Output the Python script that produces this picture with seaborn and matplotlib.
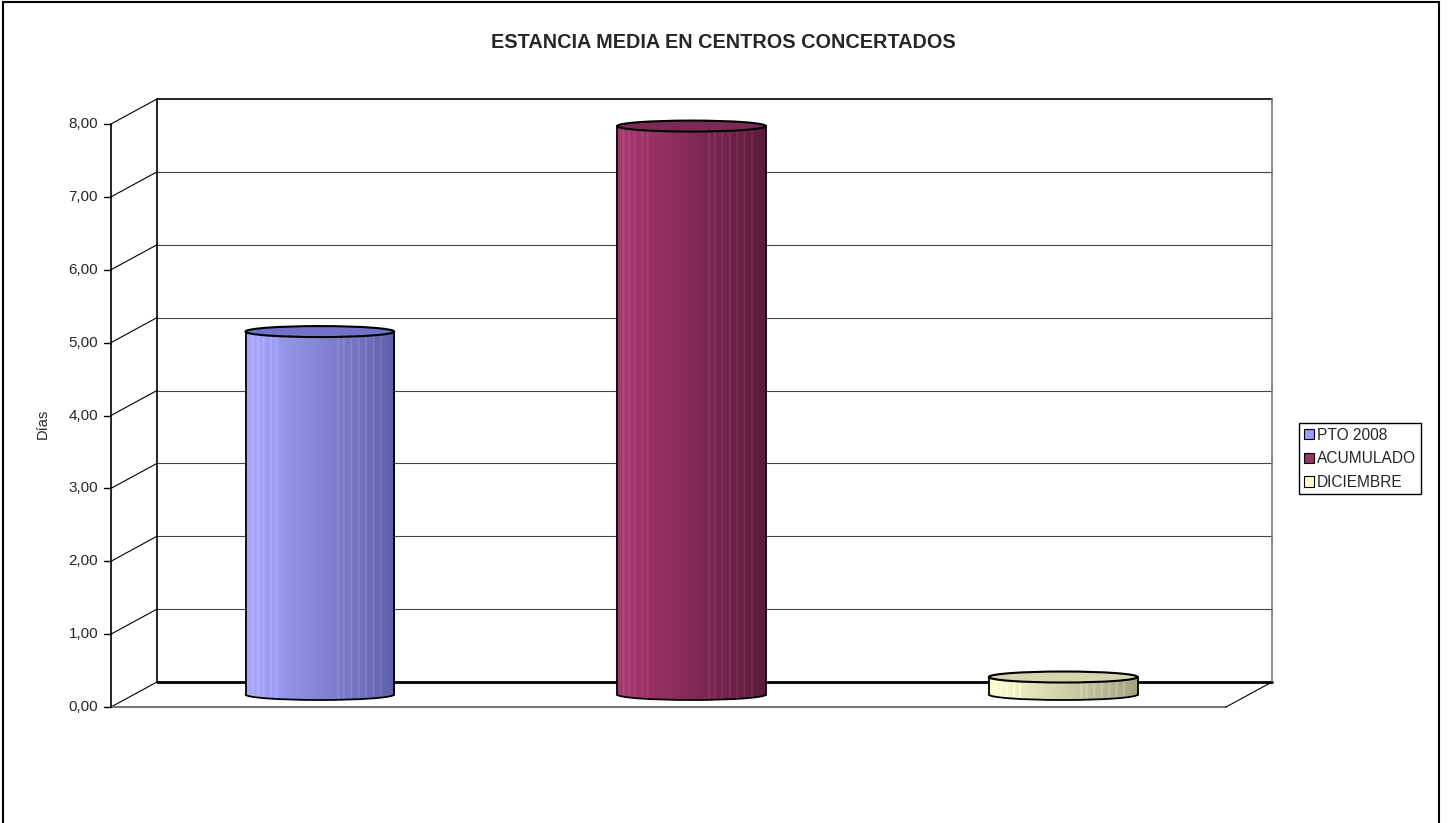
import numpy as np
import seaborn as sns
import matplotlib
matplotlib.use('Agg')
import matplotlib.pyplot as plt
import matplotlib.transforms as mtransforms
from matplotlib.lines import Line2D
from matplotlib.patches import Ellipse, Arc, Patch

# data
categories = ['PTO 2008', 'ACUMULADO', 'DICIEMBRE']
values = [4.98, 7.80, 0.24]
yticks = [0, 1, 2, 3, 4, 5, 6, 7, 8]
title = 'ESTANCIA MEDIA EN CENTROS CONCERTADOS'
ylabel = 'Días'

# colours: flat, left side of gradient, right side, top cap
flat = ['#9999ff', '#993366', '#ffffcc']
left_col = [(0.66, 0.66, 1.00), (0.66, 0.22, 0.44), (1.00, 1.00, 0.82)]
right_col = [(0.38, 0.38, 0.66), (0.36, 0.11, 0.24), (0.64, 0.64, 0.52)]
top_col = ['#7272c6', '#7a2a55', '#d6d6ae']

sns.set_style('white')
plt.rcParams['font.family'] = ['Liberation Sans', 'DejaVu Sans']

W, H = 1448, 823
fig = plt.figure(figsize=(W / 100, H / 100), dpi=100)

# mid-depth plane of the 3d box, in pixels
x_left, x_right = 134, 1249
y_zero, y_top = 694.5, 111.5
ppu = (y_zero - y_top) / 8.0
ymin = -0.25
bottom_px = y_zero + (-ymin) * ppu
ax = fig.add_axes([x_left / W, (H - bottom_px) / H,
                   (x_right - x_left) / W, (bottom_px - y_top) / H])
ax.set_ylim(ymin, 8)
ax.set_xlim(-0.5, 2.5)
ax.axis('off')

DX, DY = 23, 12.5
ident = mtransforms.IdentityTransform()


def px(xa, v, d):
    '''axes-x / data-y point pushed to front (d=-1) or back (d=+1)'''
    x, y = ax.get_yaxis_transform().transform((xa, v))
    return x + d * DX, y + d * DY


def seg(p1, p2, color='black', lw=1.0, z=0.5):
    ax.add_line(Line2D([p1[0], p2[0]], [p1[1], p2[1]], transform=ident,
                       color=color, lw=lw, zorder=z, clip_on=False))


# back wall grid and edges
for v in yticks:
    col = 'black' if v in (0, 8) else '#444444'
    lw = 2.0 if v == 0 else (1.2 if v == 8 else 0.8)
    seg(px(0, v, 1), px(1, v, 1), col, lw)
    seg(px(0, v, -1), px(0, v, 1), 'black', 0.8)
seg(px(0, 0, 1), px(0, 8, 1), 'black', 1.2)
seg(px(1, 0, 1), px(1, 8, 1), '#777777', 1.2)
# floor
seg(px(0, 0, -1), px(1, 0, -1), '#777777', 1.5)
seg(px(1, 0, -1), px(1, 0, 1), 'black', 0.8)
# front axis with ticks and labels
seg(px(0, 0, -1), px(0, 8, -1), 'black', 1.2)
for v in yticks:
    x0, y0 = px(0, v, -1)
    seg((x0 - 7, y0), (x0, y0), 'black', 1.0)
    ax.text(x0 - 13, y0, f'{v:.2f}'.replace('.', ','), transform=ident,
            ha='right', va='center', fontsize=11, clip_on=False)
lx, ly = px(0, 4, -1)
ax.text(43, ly - 8, ylabel, transform=ident, rotation=90,
        ha='center', va='center', fontsize=10.5, clip_on=False)

# cylinders
sns.barplot(x=categories, y=values, hue=categories, palette=flat,
            width=0.4, legend=False, ax=ax, zorder=2)

eh = 11 / ppu
stripes = [0.04, 0.08, 0.12, 0.17, 0.21, 0.62, 0.66, 0.71, 0.76, 0.8, 0.85, 0.9]
ncol = 80
for i, bar in enumerate(ax.patches):
    bx, bw, bh = bar.get_x(), bar.get_width(), bar.get_height()
    t = np.linspace(0, 1, ncol)
    grad = np.array(left_col[i])[None, :] * (1 - t[:, None]) + \
        np.array(right_col[i])[None, :] * t[:, None]
    for s in stripes:
        k = int(s * ncol)
        grad[k] = np.clip(grad[k] + 0.06, 0, 1)
    img = grad[None, :, :]
    bar.set_edgecolor('none')
    # bottom ellipse
    bot = Ellipse((bx + bw / 2, 0), bw, eh, facecolor='none',
                  edgecolor='none', zorder=2)
    ax.add_patch(bot)
    im = ax.imshow(img, extent=(bx, bx + bw, -eh / 2, eh / 2),
                   aspect='auto', zorder=2.1)
    im.set_clip_path(bot)
    im2 = ax.imshow(img, extent=(bx, bx + bw, 0, bh), aspect='auto',
                    zorder=2.2)
    im2.set_clip_path(bar)
    ax.add_patch(Arc((bx + bw / 2, 0), bw, eh, theta1=180, theta2=360,
                     color='black', lw=1.3, zorder=2.3))
    ax.plot([bx, bx], [0, bh], color='black', lw=1.3, zorder=2.3)
    ax.plot([bx + bw, bx + bw], [0, bh], color='black', lw=1.3, zorder=2.3)
    ax.add_patch(Ellipse((bx + bw / 2, bh), bw, eh, facecolor=top_col[i],
                         edgecolor='black', lw=1.5, zorder=2.4))

ax.set_xlim(-0.5, 2.5)
ax.set_ylim(ymin, 8)

# legend
handles = [Patch(facecolor=c, edgecolor='black', lw=0.8) for c in flat]
leg = fig.legend(handles, categories, loc='upper left',
                 bbox_to_anchor=(1299 / W, 1 - 423 / H), fontsize=11.2,
                 handlelength=0.65, handleheight=0.65, handletextpad=0.2,
                 labelspacing=0.55, borderpad=0.3, borderaxespad=0,
                 fancybox=False, framealpha=1)
leg.get_frame().set_edgecolor('black')
leg.get_frame().set_linewidth(1.0)

# title and outer border
fig.text(723 / W, 1 - 43 / H, title, ha='center', va='center',
         fontsize=14.3, fontweight='bold')
for xs, ys in [([3 / W, 3 / W], [0, 1 - 1.5 / H]),
               ([3 / W, 1439 / W], [1 - 1.5 / H, 1 - 1.5 / H]),
               ([1439 / W, 1439 / W], [0, 1 - 1.5 / H])]:
    fig.add_artist(Line2D(xs, ys, transform=fig.transFigure,
                          color='black', lw=1.5))

fig.savefig('out.png', dpi=100)
